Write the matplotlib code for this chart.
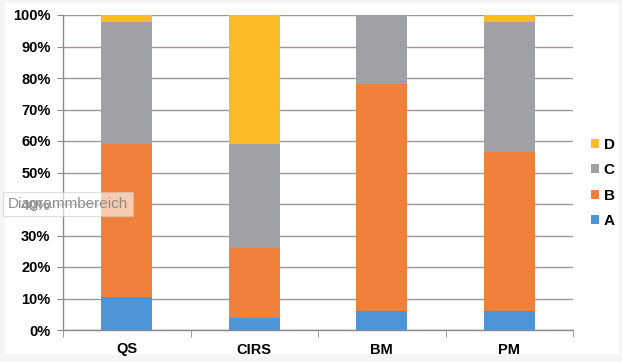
import matplotlib.pyplot as plt
from matplotlib.patches import Rectangle
import numpy as np

plt.rcParams['font.family'] = ['Liberation Sans', 'DejaVu Sans']

categories = ['QS', 'CIRS', 'BM', 'PM']
series_names = ['A', 'B', 'C', 'D']
share_a = [10.5, 3.8, 6.0, 6.0]
share_b = [48.5, 22.3, 72.1, 50.4]
share_c = [38.8, 32.8, 21.9, 41.4]
share_d = [2.2, 41.1, 0.0, 2.2]
colors = ['#4f94d6', '#f0803a', '#9fa1a4', '#fbbb27']

grid_col = '#9f9595'
axis_col = '#8a8a8a'

fig = plt.figure(figsize=(6.22, 3.62), dpi=100)
fig.patch.set_facecolor('#f5f5f5')
# white chart area inside a faint grey frame
fig.patches.append(Rectangle((5 / 622, 8 / 362), 614 / 622, 351 / 362,
                             transform=fig.transFigure, facecolor='white',
                             edgecolor='none', zorder=-5))

ax = fig.add_axes([63 / 622, 32 / 362, 510 / 622, 315 / 362])
ax.set_zorder(1)
ax.set_facecolor('white')

x = np.arange(len(categories))
bottom = np.zeros(len(categories))
bars = []
for name, vals, col in zip(series_names, [share_a, share_b, share_c, share_d], colors):
    b = ax.bar(x, vals, width=0.4, bottom=bottom, color=col, label=name, zorder=3)
    bars.append(b)
    bottom += np.array(vals)

ax.set_xlim(-0.5, len(categories) - 0.5)
ax.set_ylim(0, 100)
ax.set_yticks(np.arange(0, 101, 10))
ax.set_yticklabels([f'{v}%' for v in range(0, 101, 10)], fontsize=10.5, fontweight='bold')
ax.yaxis.grid(True, color=grid_col, linewidth=1, zorder=1)

ax.set_xticks(x)
ax.set_xticklabels(categories, fontsize=10.5, fontweight='bold')
ax.set_xticks(np.arange(-0.5, len(categories), 1), minor=True)
ax.tick_params(axis='x', which='major', length=0, pad=9)
ax.tick_params(axis='x', which='minor', length=5, color=axis_col, direction='out')
ax.tick_params(axis='y', length=4, color=axis_col, direction='out', pad=5)

for side in ['top', 'right']:
    ax.spines[side].set_visible(False)
for side in ['left', 'bottom']:
    ax.spines[side].set_color(axis_col)
    ax.spines[side].set_linewidth(1)

handles = bars[::-1]
leg = fig.legend(handles, series_names[::-1], loc='center left',
                 bbox_to_anchor=(577 / 622, 1 - 183 / 362), frameon=False,
                 handlelength=0.55, handleheight=0.55, handletextpad=0.3,
                 labelspacing=0.75, prop={'weight': 'bold', 'size': 11})

# hover tooltip over the chart area
fig.text(8 / 622, 1 - 204 / 362, 'Diagrammbereich', fontsize=11, color='#8c8c8c',
         va='center', ha='left', zorder=10,
         bbox=dict(boxstyle='square,pad=0.3', facecolor='white', alpha=0.6,
                   edgecolor='#c8c8c8', linewidth=0.8))

fig.savefig('out.png', dpi=100, facecolor=fig.get_facecolor())
